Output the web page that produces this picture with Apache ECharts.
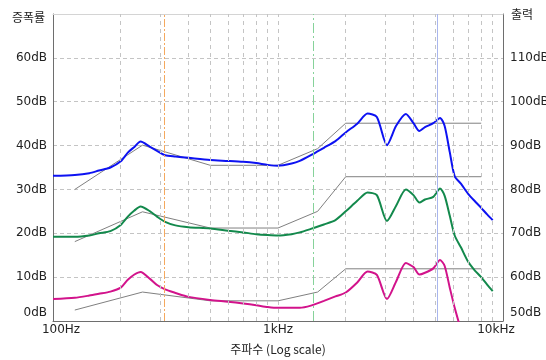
<!DOCTYPE html>
<html>
<head>
<meta charset="utf-8">
<script src="https://cdn.jsdelivr.net/npm/echarts@6/dist/echarts.min.js"></script>
<style>
html,body{margin:0;padding:0;background:#fff;overflow:hidden;}
#chart{width:546px;height:360px;}
</style>
</head>
<body>
<div id="chart"></div>
<script>
// Frequencies (Hz) for the measured curves
var freq = [100,125,145,160,180,200,215,230,245,270,290,315,350,400,500,600,700,800,900,1000,
  1150,1250,1400,1600,1800,2000,2250,2500,2750,3050,3350,3700,4000,4250,4500,4900,5250,5500,
  5800,6100,6500,7000,7500,8000,8500,9000];
// Blue curve (dB, left axis)
var blueValues = [33.1,33.3,33.7,34.3,35.0,36.4,38.4,39.7,40.9,39.7,38.8,37.8,37.5,37.2,36.7,36.5,36.3,36.0,35.6,35.4,
  35.9,36.5,37.8,39.5,41.0,43.0,45.0,47.3,46.5,40.1,44.5,47.2,45.1,43.3,44.2,45.1,46.3,44.5,
  38.5,33.0,31.3,29.0,27.3,25.8,24.3,23.0];
// Green curve
var greenValues = [19.2,19.2,19.5,20.0,20.5,21.9,23.8,25.2,26.1,25.0,23.8,22.6,21.8,21.4,21.1,20.6,20.2,19.8,19.6,19.5,
  19.8,20.2,21.0,22.0,23.0,25.0,27.4,29.3,28.7,22.8,26.3,30.0,28.7,27.0,27.7,28.3,30.2,28.6,
  24.0,19.5,16.8,13.5,11.5,10.0,8.3,6.8];
// Magenta curve
var magentaValues = [5.0,5.3,5.8,6.2,6.7,7.6,9.4,10.6,11.2,9.6,8.2,7.2,6.4,5.5,4.8,4.4,4.0,3.6,3.2,3.0,
  3.0,3.0,3.5,4.6,5.6,6.5,8.8,11.3,10.5,5.0,9.0,13.2,12.3,10.6,11.0,12.0,13.9,12.6,
  7.6,3.0,-2.0,null,null,null,null,null];
// Gray target lines
var grayFreq = [125,250,500,1000,1500,2000,8000];
var grayUpper = [30,40.1,35.5,35.5,39.3,45.1,45.1];
var grayMiddle = [18.1,24.9,21.2,21.2,25.0,32.9,32.9];
var grayLower = [2.5,6.6,4.6,4.6,6.6,11.9,11.9];
// Grid / marker frequencies
var gridFreq = [200,300,400,500,600,700,800,900,1000,2000,3000,4000,5000,6000,7000,8000,9000];
var orangeMarker = 312;
var greenMarker = 1430;
var blueMarker = 5080;
// Axis ticks and labels
var xTickLabels = {100:'100Hz',1000:'1kHz',10000:'10kHz'};
var leftTicks = [0,10,20,30,40,50,60];
var rightTicks = [50,60,70,80,90,100,110];

function pairs(xs, ys){
  var out = [];
  for (var i=0;i<xs.length;i++){ if (ys[i]!==null && ys[i]!==undefined) out.push([xs[i], ys[i]]); }
  return out;
}

var FONT = '"DejaVu Sans"';
var KFONT = '"Noto Sans CJK KR"';
var chart = echarts.init(document.getElementById('chart'), null, {renderer:'canvas'});

var gridLines = gridFreq.map(function(f){ return {xAxis:f}; });
gridLines.push({xAxis:orangeMarker, lineStyle:{color:'#f5a95e', type:[8,2,2,2], width:1}});
gridLines.push({xAxis:greenMarker, lineStyle:{color:'#86d29a', type:[10,3,2,3], width:1}});
gridLines.push({xAxis:blueMarker, lineStyle:{color:'#a9b6ee', type:'solid', width:1}});

function grayLine(name, ys, extra){
  var s = {
    name:name, type:'line', xAxisIndex:0, yAxisIndex:0, data:pairs(grayFreq, ys),
    symbol:'none', silent:true, z:2,
    lineStyle:{color:'#808080', width:1}
  };
  if (extra) for (var k in extra) s[k]=extra[k];
  return s;
}

function curve(name, ys, color){
  return {
    name:name, type:'line', xAxisIndex:0, yAxisIndex:0, data:pairs(freq, ys),
    symbol:'none', smooth:0.25, z:3, clip:true,
    lineStyle:{color:color, width:2}
  };
}

var option = {
  animation:false,
  backgroundColor:'#ffffff',
  textStyle:{fontFamily:FONT},
  grid:{left:53, right:43, top:14, bottom:39, containLabel:false, outerBoundsMode:'none'},
  xAxis:[{
    type:'log', logBase:10, min:100, max:10000, position:'bottom',
    name:'주파수 (Log scale)', nameLocation:'middle', nameGap:22,
    nameTextStyle:{fontFamily:KFONT, fontSize:12, color:'#222'},
    axisLine:{show:true, lineStyle:{color:'#6e6e6e', width:1}},
    axisTick:{show:false},
    splitLine:{show:false},
    axisLabel:{
      show:true, margin:3, color:'#222', fontFamily:FONT, fontSize:12,
      showMinLabel:true, showMaxLabel:true,
      formatter:function(v){
        var t = xTickLabels[Math.round(v)];
        if (!t) return '';
        if (Math.round(v)===100) return '{l|'+t+'}';
        if (Math.round(v)===10000) return '{r|'+t+'}';
        return '{m|'+t+'}';
      },
      rich:{
        l:{padding:[0,0,0,16], fontFamily:FONT, fontSize:12, color:'#222'},
        m:{fontFamily:FONT, fontSize:12, color:'#222'},
        r:{padding:[0,14,0,0], fontFamily:FONT, fontSize:12, color:'#222'}
      }
    }
  },{
    type:'log', logBase:10, min:100, max:10000, position:'top',
    axisLine:{show:true, lineStyle:{color:'#d4d4d4', width:1}},
    axisTick:{show:false}, axisLabel:{show:false}, splitLine:{show:false}
  }],
  yAxis:[{
    type:'value', min:0, max:70, interval:10, position:'left',
    name:'증폭률', nameLocation:'end', nameGap:-3,
    nameTextStyle:{fontFamily:KFONT, fontSize:12, color:'#222', align:'right', verticalAlign:'middle', padding:[0,8,0,0]},
    axisLine:{show:true, lineStyle:{color:'#6e6e6e', width:1}},
    axisTick:{show:false},
    splitLine:{show:true, lineStyle:{color:'#c4c4c4', type:[4,3], width:1}},
    axisLabel:{
      margin:6, color:'#222', fontFamily:FONT, fontSize:12,
      formatter:function(v){
        if (leftTicks.indexOf(v)<0) return '';
        if (v===0) return '{z|0dB}';
        return '{n|'+v+'dB}';
      },
      rich:{
        z:{padding:[0,0,16,0], fontFamily:FONT, fontSize:12, color:'#222'},
        n:{fontFamily:FONT, fontSize:12, color:'#222'}
      }
    }
  },{
    type:'value', min:50, max:120, interval:10, position:'right',
    name:'출력', nameLocation:'end', nameGap:0,
    nameTextStyle:{fontFamily:KFONT, fontSize:12, color:'#222', align:'left', verticalAlign:'middle', padding:[0,0,0,8]},
    axisLine:{show:true, lineStyle:{color:'#6e6e6e', width:1}},
    axisTick:{show:false},
    splitLine:{show:false},
    axisLabel:{
      margin:7, color:'#222', fontFamily:FONT, fontSize:12,
      formatter:function(v){
        if (rightTicks.indexOf(v)<0) return '';
        if (v===50) return '{z|50dB}';
        return '{n|'+v+'dB}';
      },
      rich:{
        z:{padding:[0,0,16,0], fontFamily:FONT, fontSize:12, color:'#222'},
        n:{fontFamily:FONT, fontSize:12, color:'#222'}
      }
    }
  }],
  series:[
    grayLine('upperTarget', grayUpper, {
      markLine:{
        silent:true, symbol:['none','none'], label:{show:false}, animation:false,
        lineStyle:{color:'#c4c4c4', type:[4,4], width:1},
        data:gridLines
      }
    }),
    grayLine('middleTarget', grayMiddle),
    grayLine('lowerTarget', grayLower),
    curve('blue', blueValues, '#0d12f2'),
    curve('green', greenValues, '#13894c'),
    curve('magenta', magentaValues, '#d2138b')
  ]
};
chart.setOption(option);
</script>
</body>
</html>
